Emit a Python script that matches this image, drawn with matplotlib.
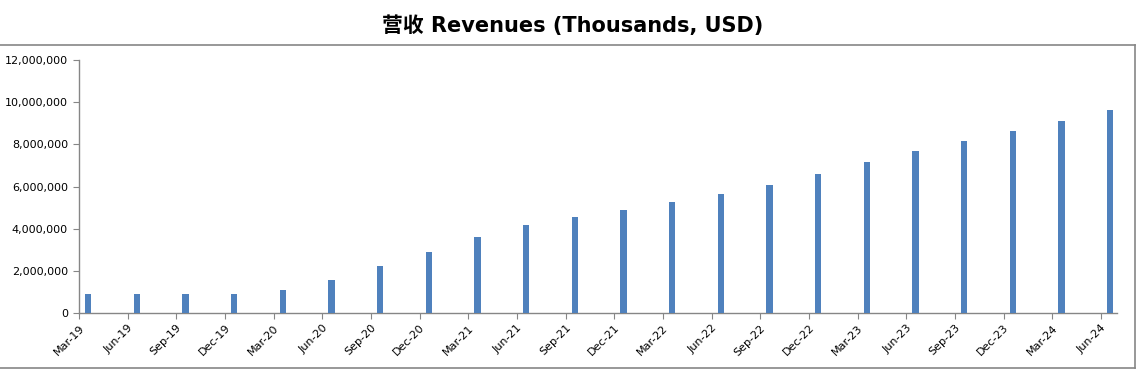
import matplotlib
matplotlib.use("Agg")
import matplotlib.pyplot as plt
from matplotlib.ticker import FuncFormatter
from matplotlib.lines import Line2D

quarters = ["Mar-19", "Jun-19", "Sep-19", "Dec-19", "Mar-20", "Jun-20", "Sep-20", "Dec-20",
            "Mar-21", "Jun-21", "Sep-21", "Dec-21", "Mar-22", "Jun-22", "Sep-22", "Dec-22",
            "Mar-23", "Jun-23", "Sep-23", "Dec-23", "Mar-24", "Jun-24"]
revenue = [900000, 900000, 900000, 900000, 1090000, 1570000, 2240000, 2900000,
           3600000, 4170000, 4550000, 4890000, 5270000, 5650000, 6070000, 6590000,
           7160000, 7680000, 8160000, 8630000, 9110000, 9630000]
yticks = [0, 2000000, 4000000, 6000000, 8000000, 10000000, 12000000]

BLUE, AXIS = "#4f81bd", "#868686"
plt.rcParams["font.family"] = ["DejaVu Sans", "Noto Sans CJK SC"]

W, H = 1141, 373
fig = plt.figure(figsize=(W / 100, H / 100), dpi=100)
ax = fig.add_axes([79 / W, 1 - 313 / H, (1117 - 79) / W, (313 - 60) / H])

x = range(len(quarters))
ax.bar([i + 0.19 for i in x], revenue, width=0.13, color=BLUE, zorder=3)

ax.set_xlim(0, 21.33)
ax.set_ylim(0, 12000000)
ax.set_xticks(list(x))
ax.set_xticklabels(quarters, rotation=45, ha="right", rotation_mode="anchor", fontsize=8)
ax.set_yticks(yticks)
ax.yaxis.set_major_formatter(FuncFormatter(lambda v, p: f"{int(v):,}"))
ax.tick_params(axis="y", labelsize=8, length=4, color=AXIS, pad=4)
ax.tick_params(axis="x", length=4, color=AXIS, pad=3)
for s in ("top", "right"):
    ax.spines[s].set_visible(False)
for s in ("left", "bottom"):
    ax.spines[s].set_color(AXIS)
    ax.spines[s].set_linewidth(1.0)

# chart border (cropped Excel chart frame)
for xs, ys in (([0, 1135 / W], [1 - 45 / H] * 2), ([0, 1135 / W], [1 - 368 / H] * 2),
               ([1135 / W] * 2, [1 - 45 / H, 1 - 368 / H])):
    fig.add_artist(Line2D(xs, ys, color=AXIS, lw=1.2))

fig.text(573 / W, 1 - 26 / H, "营收 Revenues (Thousands, USD)", ha="center", va="center",
         fontsize=15, fontweight="bold")

fig.savefig("out.png", dpi=100, facecolor="white")
